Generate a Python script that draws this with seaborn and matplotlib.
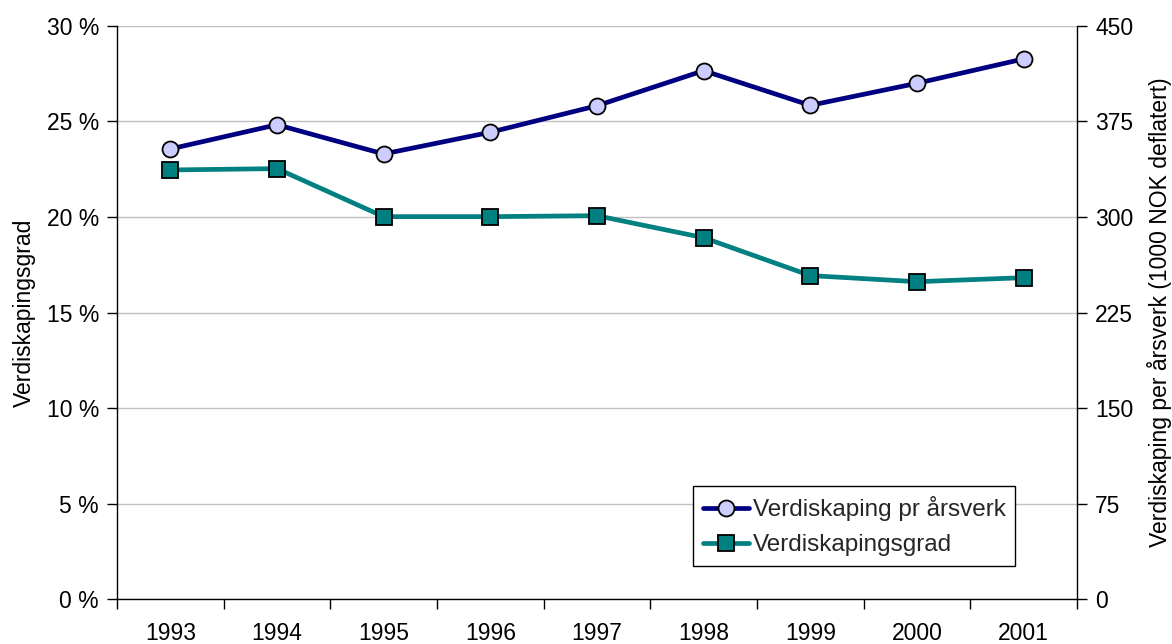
import matplotlib
matplotlib.use("Agg")
import matplotlib.pyplot as plt
import seaborn as sns
import pandas as pd
from matplotlib.ticker import FixedLocator, FuncFormatter

years = ["1993", "1994", "1995", "1996", "1997", "1998", "1999", "2000", "2001"]
verdiskaping_pr_arsverk = [353.2, 372.2, 349.3, 366.3, 387.1, 414.6, 387.4, 404.7, 423.8]
verdiskapingsgrad = [22.45, 22.52, 20.01, 20.01, 20.06, 18.91, 16.93, 16.61, 16.82]
left_ticks = [0, 5, 10, 15, 20, 25, 30]
right_ticks = [0, 75, 150, 225, 300, 375, 450]

sns.set_theme(style="white")
plt.rcParams["font.family"] = ["Liberation Sans", "DejaVu Sans"]
FS = 16.5

df = pd.DataFrame({"year": years, "grad": verdiskapingsgrad, "pr": verdiskaping_pr_arsverk})

fig = plt.figure(figsize=(11.72, 6.44), dpi=100)
ax = fig.add_axes([0.0998, 0.0691, 0.8191, 0.8913])
ax2 = ax.twinx()

sns.lineplot(data=df, x="year", y="grad", ax=ax, color="#008080", lw=3.4,
             marker="s", markersize=11, markerfacecolor="#008080",
             markeredgecolor="#000000", markeredgewidth=1.3, label="Verdiskapingsgrad",
             legend=False, zorder=3)
sns.lineplot(data=df, x="year", y="pr", ax=ax2, color="#000080", lw=3.4,
             marker="o", markersize=11.5, markerfacecolor="#CCCCFF",
             markeredgecolor="#000000", markeredgewidth=1.3, label="Verdiskaping pr årsverk",
             legend=False, zorder=3)

for a in (ax, ax2):
    a.set_xlim(-0.5, len(years) - 0.5)
ax.set_ylim(0, 30)
ax2.set_ylim(0, 450)
ax.set_yticks(left_ticks)
ax.yaxis.set_major_formatter(FuncFormatter(lambda v, p: f"{int(v)} %"))
ax2.set_yticks(right_ticks)
ax2.set_yticklabels([str(t) for t in right_ticks])

ax.grid(axis="y", color="#C0C0C0", lw=1)
ax.set_axisbelow(True)

ax.set_xticks(range(len(years)))
ax.set_xticklabels(years)
ax.xaxis.set_minor_locator(FixedLocator([i - 0.5 for i in range(len(years) + 1)]))
ax.tick_params(axis="x", which="major", length=0, labelsize=FS, pad=16, colors="black")
ax.tick_params(axis="x", which="minor", length=7, width=1, direction="out", color="black", bottom=True)
ax.tick_params(axis="y", length=7, width=1, direction="out", left=True, labelsize=FS, colors="black", pad=6)
ax2.tick_params(axis="y", length=7, width=1, direction="out", right=True, labelsize=FS, colors="black", pad=6)

for a in (ax, ax2):
    for s in a.spines.values():
        s.set_color("black")
        s.set_linewidth(1)
    a.spines["top"].set_visible(False)
ax.spines["right"].set_visible(False)
ax2.spines["left"].set_visible(False)
ax2.spines["bottom"].set_visible(False)

ax.set_xlabel("")
ax.set_ylabel("Verdiskapingsgrad", fontsize=FS, color="black", labelpad=8)
ax2.set_ylabel("Verdiskaping per årsverk (1000 NOK deflatert)", fontsize=FS, color="black", labelpad=10)

h1, l1 = ax2.get_legend_handles_labels()
h2, l2 = ax.get_legend_handles_labels()
leg = ax2.legend(h1 + h2, l1 + l2, loc="lower left", bbox_to_anchor=(0.600, 0.058),
                 prop={"size": 17.5}, frameon=True, fancybox=False, framealpha=1,
                 edgecolor="black", handlelength=1.9, borderpad=0.4, labelspacing=0.55,
                 handletextpad=0.15, borderaxespad=0)
leg.get_frame().set_linewidth(1)

fig.savefig("out.png", dpi=100)
